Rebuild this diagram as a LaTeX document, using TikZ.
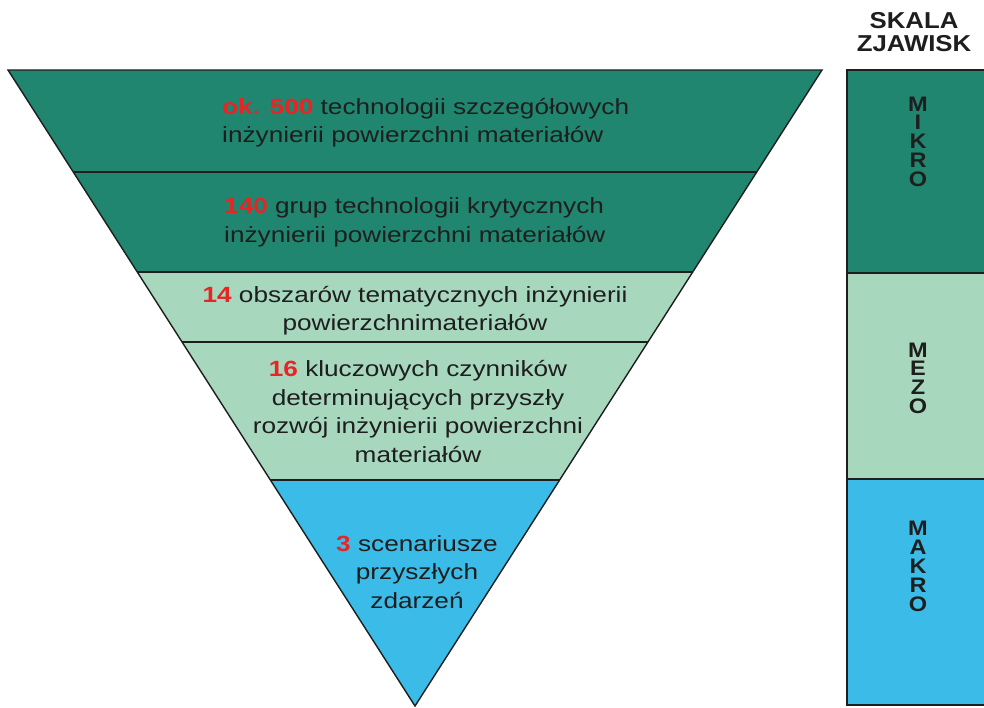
\documentclass[tikz,border=0pt]{standalone}
\usepackage{fontspec}
\setmainfont{Liberation Sans}
\newfontfamily\bodyfont{Liberation Sans}[FakeStretch=1.19]
\newfontfamily\headfont{Liberation Sans}[FakeStretch=1.12]
\usetikzlibrary{calc}

\definecolor{deepteal}{RGB}{32,134,112}
\definecolor{mint}{RGB}{167,216,189}
\definecolor{skyblue}{RGB}{59,187,232}
\definecolor{numred}{RGB}{232,36,36}
\definecolor{inkgray}{RGB}{30,30,30}

\newcommand{\rednum}[1]{{\bfseries\color{numred}#1}}

\tikzset{
  band/.style={draw=inkgray, line width=1.4pt, line join=miter},
  bandtext/.style={font=\bodyfont\fontsize{22}{28.5}\selectfont, text=inkgray, inner sep=0pt},
  scaleletter/.style={font=\headfont\bfseries\fontsize{21}{21}\selectfont, text=inkgray, inner sep=0pt},
  headtext/.style={font=\headfont\bfseries\fontsize{23}{23.5}\selectfont, text=inkgray, align=center, inner sep=0pt},
}

\begin{document}
\begin{tikzpicture}[x=1pt,y=-1pt]
\useasboundingbox (0,0) rectangle (984,707);
\fill[white] (0,0) rectangle (984,707);

% inverted pyramid
\coordinate (TL) at (8,70);
\coordinate (TR) at (822,70);
\coordinate (AP) at (415,706);
\foreach \n/\t in {a/0.1604,b/0.3176,c/0.4277,d/0.6447} {
  \coordinate (L\n) at ($(TL)!\t!(AP)$);
  \coordinate (R\n) at ($(TR)!\t!(AP)$);
}
\fill[deepteal] (TL) -- (TR) -- (Rb) -- (Lb) -- cycle;
\fill[mint] (Lb) -- (Rb) -- (Rd) -- (Ld) -- cycle;
\fill[skyblue] (Ld) -- (Rd) -- (AP) -- cycle;
\draw[band] (La) -- (Ra) (Lb) -- (Rb) (Lc) -- (Rc) (Ld) -- (Rd);
\draw[band] (TL) -- (TR) -- (AP) -- cycle;

% scale column
\coordinate (S0) at (847,70);
\coordinate (S1) at (847,273);
\coordinate (S2) at (847,479);
\coordinate (S3) at (847,705);
\fill[deepteal] (S0) rectangle (992,273);
\fill[mint] (S1) rectangle (992,479);
\fill[skyblue] (S2) rectangle (992,705);
\draw[band] (992,70) -- (S0) -- (S3) -- (992,705);
\draw[band] (S1) -- (992,273) (S2) -- (992,479);

% pyramid labels
\node[bandtext, anchor=west, align=left] (t1) at (222,122.5)
  {\rednum{ok. 500} technologii szczegółowych\\inżynierii powierzchni materiałów};
\node[bandtext, anchor=west, align=left] (t2) at (224,222.5)
  {\rednum{140} grup technologii krytycznych\\inżynierii powierzchni materiałów};
\node[bandtext, align=center] (t3) at (415,310.5)
  {\rednum{14} obszarów tematycznych inżynierii\\powierzchnimateriałów};
\node[bandtext, align=center] (t4) at (418,411.5)
  {\rednum{16} kluczowych czynników\\determinujących przyszły\\rozwój inżynierii powierzchni\\materiałów};
\node[bandtext, align=center] (t5) at (417,572)
  {\rednum{3} scenariusze\\przyszłych\\zdarzeń};

% scale labels, one letter below the other
\node[headtext] (head) at (914,32) {SKALA\\ZJAWISK};
\foreach \ch [count=\i] in {M,I,K,R,O}
  \node[scaleletter] (mikro\i) at (918,{104+(\i-1)*18.7}) {\ch};
\foreach \ch [count=\i] in {M,E,Z,O}
  \node[scaleletter] (mezo\i) at (918,{350+(\i-1)*18.7}) {\ch};
\foreach \ch [count=\i] in {M,A,K,R,O}
  \node[scaleletter] (makro\i) at (918,{528+(\i-1)*19}) {\ch};
\end{tikzpicture}
\end{document}
